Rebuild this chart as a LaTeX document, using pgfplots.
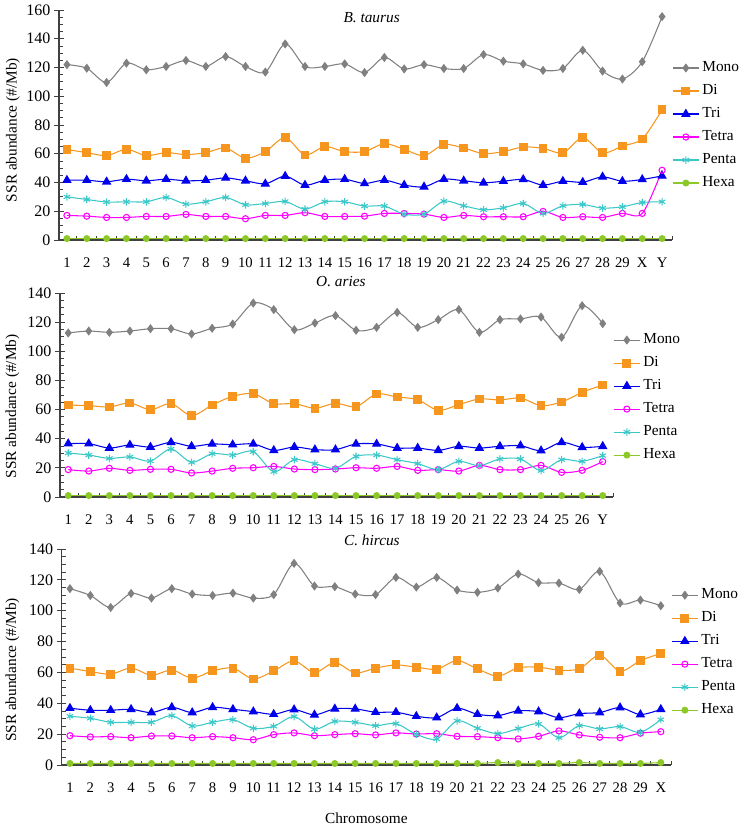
\documentclass[border=0pt]{standalone}
\usepackage{fontspec}
\setmainfont{Liberation Serif}
\usepackage{pgfplots}
\usepackage{pgfplotstable}
\pgfplotsset{compat=1.18}

\definecolor{axgray}{RGB}{64,64,64}
\definecolor{cmono}{RGB}{128,128,128}
\definecolor{cdi}{RGB}{247,150,30}
\definecolor{ctri}{RGB}{0,0,235}
\definecolor{ctetra}{RGB}{255,0,255}
\definecolor{cpenta}{RGB}{60,200,200}
\definecolor{chexa}{RGB}{140,200,40}

% B. taurus
\pgfplotstableread{
x mono di tri tetra penta hexa
1 122.0 62.9 41.6 17.1 30.0 1.0
2 119.5 60.8 41.6 16.6 28.2 1.0
3 109.6 58.7 40.5 15.7 26.4 1.0
4 123.0 63.1 42.3 15.7 26.6 1.0
5 118.4 58.7 41.2 16.4 26.6 1.0
6 120.7 60.8 42.3 16.4 29.6 1.0
7 124.9 59.4 41.2 17.8 25.0 1.0
8 120.7 60.8 41.6 16.4 26.6 1.0
9 127.6 64.0 43.2 16.4 29.6 1.0
10 120.7 56.9 41.2 14.8 24.5 1.0
11 116.8 61.5 39.1 17.1 25.4 1.0
12 136.4 71.2 44.4 17.1 26.8 1.0
13 120.7 59.2 38.2 19.0 21.5 1.0
14 120.7 65.0 41.6 16.4 26.6 1.0
15 122.5 61.5 42.3 16.4 26.6 1.0
16 116.5 61.5 39.3 16.6 23.6 1.0
17 127.0 67.0 41.6 18.5 23.6 1.0
18 119.0 63.1 38.2 18.5 18.0 1.0
19 122.0 58.7 37.0 18.0 18.0 1.0
20 119.3 66.4 42.3 15.7 27.0 1.0
21 119.3 64.0 41.2 17.1 23.8 1.0
22 129.0 60.1 39.8 16.2 21.0 1.0
23 124.4 61.5 40.9 16.2 22.4 1.0
24 122.5 64.7 42.1 16.2 25.4 1.0
25 118.0 63.8 38.2 19.9 18.5 1.0
26 119.3 60.6 40.9 15.7 23.8 1.0
27 132.0 71.2 40.2 16.2 24.7 1.0
28 117.5 60.6 43.9 15.7 22.2 1.0
29 112.0 65.4 40.9 18.5 23.1 1.0
30 124.0 70.3 42.1 18.5 26.1 1.0
31 155.4 90.6 44.6 48.5 26.6 1.0
}\taurus

% O. aries
\pgfplotstableread{
x mono di tri tetra penta hexa
1 112.6 63.1 36.6 18.8 30.2 1.0
2 113.9 62.7 36.6 17.8 28.8 1.0
3 113.0 61.8 33.6 19.7 26.5 1.0
4 113.9 64.5 35.7 18.3 27.5 1.0
5 115.5 59.9 34.3 19.0 24.7 1.0
6 115.5 64.1 37.5 19.0 32.9 1.0
7 111.9 55.8 34.8 16.5 23.8 1.0
8 115.8 63.1 36.4 17.8 29.7 1.0
9 118.7 69.1 35.9 19.7 28.8 1.0
10 133.1 70.9 36.4 20.1 31.1 1.0
11 128.6 64.1 32.0 21.0 17.4 1.0
12 114.8 64.1 34.3 19.2 25.6 1.0
13 119.4 60.9 32.5 18.8 22.9 1.0
14 124.5 64.3 32.5 19.2 19.7 1.0
15 114.4 62.0 36.4 20.1 27.9 1.0
16 116.4 70.7 36.4 19.7 28.8 1.0
17 126.7 68.6 33.6 21.0 25.6 1.0
18 116.4 66.8 33.6 18.3 22.9 1.0
19 121.7 59.5 32.0 18.8 18.8 1.0
20 128.6 63.4 34.8 17.8 24.5 1.0
21 113.0 67.3 33.6 21.7 21.5 1.0
22 121.7 66.6 34.8 18.8 26.1 1.0
23 122.2 67.9 35.2 18.8 26.1 1.0
24 123.5 62.7 31.8 21.7 18.1 1.0
25 109.6 65.2 37.5 16.9 25.6 1.0
26 131.3 71.8 34.1 18.3 24.5 1.0
27 119.0 76.9 34.8 24.3 28.4 1.0
}\aries

% C. hircus
\pgfplotstableread{
x mono di tri tetra penta hexa
1 114.3 62.8 36.8 19.0 31.6 1.0
2 109.9 60.6 35.5 18.2 30.3 1.0
3 102.1 58.9 35.5 18.4 27.7 1.0
4 111.2 62.8 36.1 17.7 27.7 1.0
5 108.2 58.2 34.0 18.8 27.7 1.0
6 114.3 61.5 37.4 18.8 32.0 1.0
7 110.8 56.3 34.0 17.7 25.3 1.0
8 109.9 61.0 37.4 18.4 27.7 1.0
9 111.4 62.8 36.1 17.7 29.4 1.0
10 108.2 55.8 34.6 16.4 23.8 1.0
11 110.4 61.0 32.9 19.7 25.1 1.0
12 130.7 67.5 35.9 20.8 31.4 1.0
13 116.0 59.9 32.5 19.0 23.2 1.0
14 115.6 66.4 36.4 19.7 28.3 1.0
15 110.8 59.7 36.4 20.3 27.7 1.0
16 110.4 62.8 34.2 19.5 25.5 1.0
17 121.6 64.9 34.2 20.8 26.8 1.0
18 115.3 63.4 31.6 20.1 19.9 1.0
19 121.6 62.1 30.7 20.3 16.9 1.0
20 113.4 67.7 36.8 18.6 28.6 1.0
21 111.9 62.3 32.9 18.4 23.8 1.0
22 114.7 57.6 32.0 17.7 20.3 1.6
23 123.8 63.0 35.1 16.9 23.6 1.0
24 118.2 63.4 34.6 18.6 26.6 1.0
25 117.9 61.5 30.7 22.1 17.7 1.0
26 113.8 62.3 33.3 19.5 25.5 1.6
27 125.5 71.2 34.0 18.0 23.4 1.0
28 105.0 60.8 37.2 17.7 24.9 1.0
29 106.9 67.7 32.7 20.6 21.2 1.0
30 103.2 72.3 36.1 21.6 29.4 1.6
}\hircus

\pgfplotsset{
  ssr/.style={
    scale only axis,
    clip=false,
    axis x line*=bottom, axis y line*=left,
    axis line style={draw=axgray, line width=0.9pt},
    ymin=0, xmin=0.6,
    ytick distance=20, minor y tick num=3,
    tick style={draw=axgray, line width=0.6pt},
    major tick length=7pt, minor tick length=3.2pt,
    tick align=inside,
    major y tick style={xshift=-3.5pt},
    major x tick style={draw=none},
    /pgf/number format/assume math mode=true,
    yticklabel style={font=\fontsize{12}{14}\selectfont, xshift=-3pt},
    xticklabel style={font=\fontsize{11}{13}\selectfont, yshift=-10pt},
    ylabel={SSR abundance (\#/Mb)},
    ylabel style={font=\fontsize{11.5}{14}\selectfont, anchor=center},
    % the default title style already shifts it up by 6pt
    title style={font=\fontsize{11.5}{14}\selectfont\itshape, anchor=center, yshift=-6pt},
    legend cell align=left,
    legend style={draw=none, fill=none, inner sep=0pt, outer sep=0pt,
      anchor=north west, font=\fontsize{11.5}{13}\selectfont,
      row sep=4.75pt, column sep=1pt,
      nodes={inner sep=1pt, text height=8pt, text depth=2.5pt}},
    legend image code/.code={\draw[mark repeat=2, mark phase=2]
      plot coordinates {(0pt,0pt) (10pt,0pt) (20pt,0pt)};},
    every axis plot/.append style={smooth, line width=0.8pt},
  },
  pmono/.style={color=cmono, mark=diamond*, mark size=2.8pt, mark options={fill=cmono}},
  pdi/.style={color=cdi, mark=square*, mark size=2.9pt, mark options={fill=cdi}},
  ptri/.style={color=ctri, mark=triangle*, mark size=3.3pt, mark options={fill=ctri}},
  ptetra/.style={color=ctetra, mark=o, mark size=2.3pt, mark options={fill=white}},
  ppenta/.style={color=cpenta, mark=asterisk, mark size=2.8pt},
  phexa/.style={color=chexa, mark=*, mark size=2.2pt, mark options={fill=chexa}},
}

\begin{document}
\begin{tikzpicture}
\path[use as bounding box] (0pt,0pt) rectangle (555.75pt,-619.5pt);

% panel 1
\begin{axis}[ssr,
  at={(44.25pt,-180pt)}, anchor=south west,
  width=459.75pt, height=172.5pt,
  xmax=31.5, ymax=160,
  xtick={1,...,31},
  xticklabels={1,2,3,4,5,6,7,8,9,10,11,12,13,14,15,16,17,18,19,20,21,22,23,24,25,26,27,28,29,X,Y},
  minor xtick={1.5,2.5,...,31.5},
  title={B. taurus}, title style={at={(0.51,0.965)}},
  ylabel style={at={(axis description cs:-0.075,0.478)}},
  legend style={at={(1.0,0.784)}},
]
\addplot[pmono] table[x=x, y=mono] {\taurus};
\addplot[pdi] table[x=x, y=di] {\taurus};
\addplot[ptri] table[x=x, y=tri] {\taurus};
\addplot[ptetra] table[x=x, y=tetra] {\taurus};
\addplot[ppenta] table[x=x, y=penta] {\taurus};
\addplot[phexa] table[x=x, y=hexa] {\taurus};
\legend{Mono,Di,Tri,Tetra,Penta,Hexa}
\end{axis}

% panel 2
\begin{axis}[ssr,
  at={(45pt,-372.75pt)}, anchor=south west,
  width=414.75pt, height=153pt,
  xmax=27.5, ymax=140,
  xtick={1,...,27},
  xticklabels={1,2,3,4,5,6,7,8,9,10,11,12,13,14,15,16,17,18,19,20,21,22,23,24,25,26,Y},
  minor xtick={1.5,2.5,...,27.5},
  title={O. aries}, title style={at={(0.508,1.054)}},
  ylabel style={at={(axis description cs:-0.086,0.444)}},
  legend style={at={(1.0,0.81)}},
]
\addplot[pmono] table[x=x, y=mono] {\aries};
\addplot[pdi] table[x=x, y=di] {\aries};
\addplot[ptri] table[x=x, y=tri] {\aries};
\addplot[ptetra] table[x=x, y=tetra] {\aries};
\addplot[ppenta] table[x=x, y=penta] {\aries};
\addplot[phexa] table[x=x, y=hexa] {\aries};
\legend{Mono,Di,Tri,Tetra,Penta,Hexa}
\end{axis}

% panel 3
\begin{axis}[ssr,
  at={(46.35pt,-573.75pt)}, anchor=south west,
  width=456.9pt, height=162pt,
  xmax=30.5, ymax=140,
  xtick={1,...,30},
  xticklabels={1,2,3,4,5,6,7,8,9,10,11,12,13,14,15,16,17,18,19,20,21,22,23,24,25,26,27,28,29,X},
  minor xtick={1.5,2.5,...,30.5},
  title={C. hircus}, title style={at={(0.509,1.042)}},
  ylabel style={at={(axis description cs:-0.081,0.44)}},
  xlabel={Chromosome},
  xlabel style={font=\fontsize{11.5}{14}\selectfont, at={(axis description cs:0.5,0)}, anchor=center, yshift=-39.75pt},
  legend style={at={(1.0,0.825)}},
]
\addplot[pmono] table[x=x, y=mono] {\hircus};
\addplot[pdi] table[x=x, y=di] {\hircus};
\addplot[ptri] table[x=x, y=tri] {\hircus};
\addplot[ptetra] table[x=x, y=tetra] {\hircus};
\addplot[ppenta] table[x=x, y=penta] {\hircus};
\addplot[phexa] table[x=x, y=hexa] {\hircus};
\legend{Mono,Di,Tri,Tetra,Penta,Hexa}
\end{axis}
\end{tikzpicture}
\end{document}
